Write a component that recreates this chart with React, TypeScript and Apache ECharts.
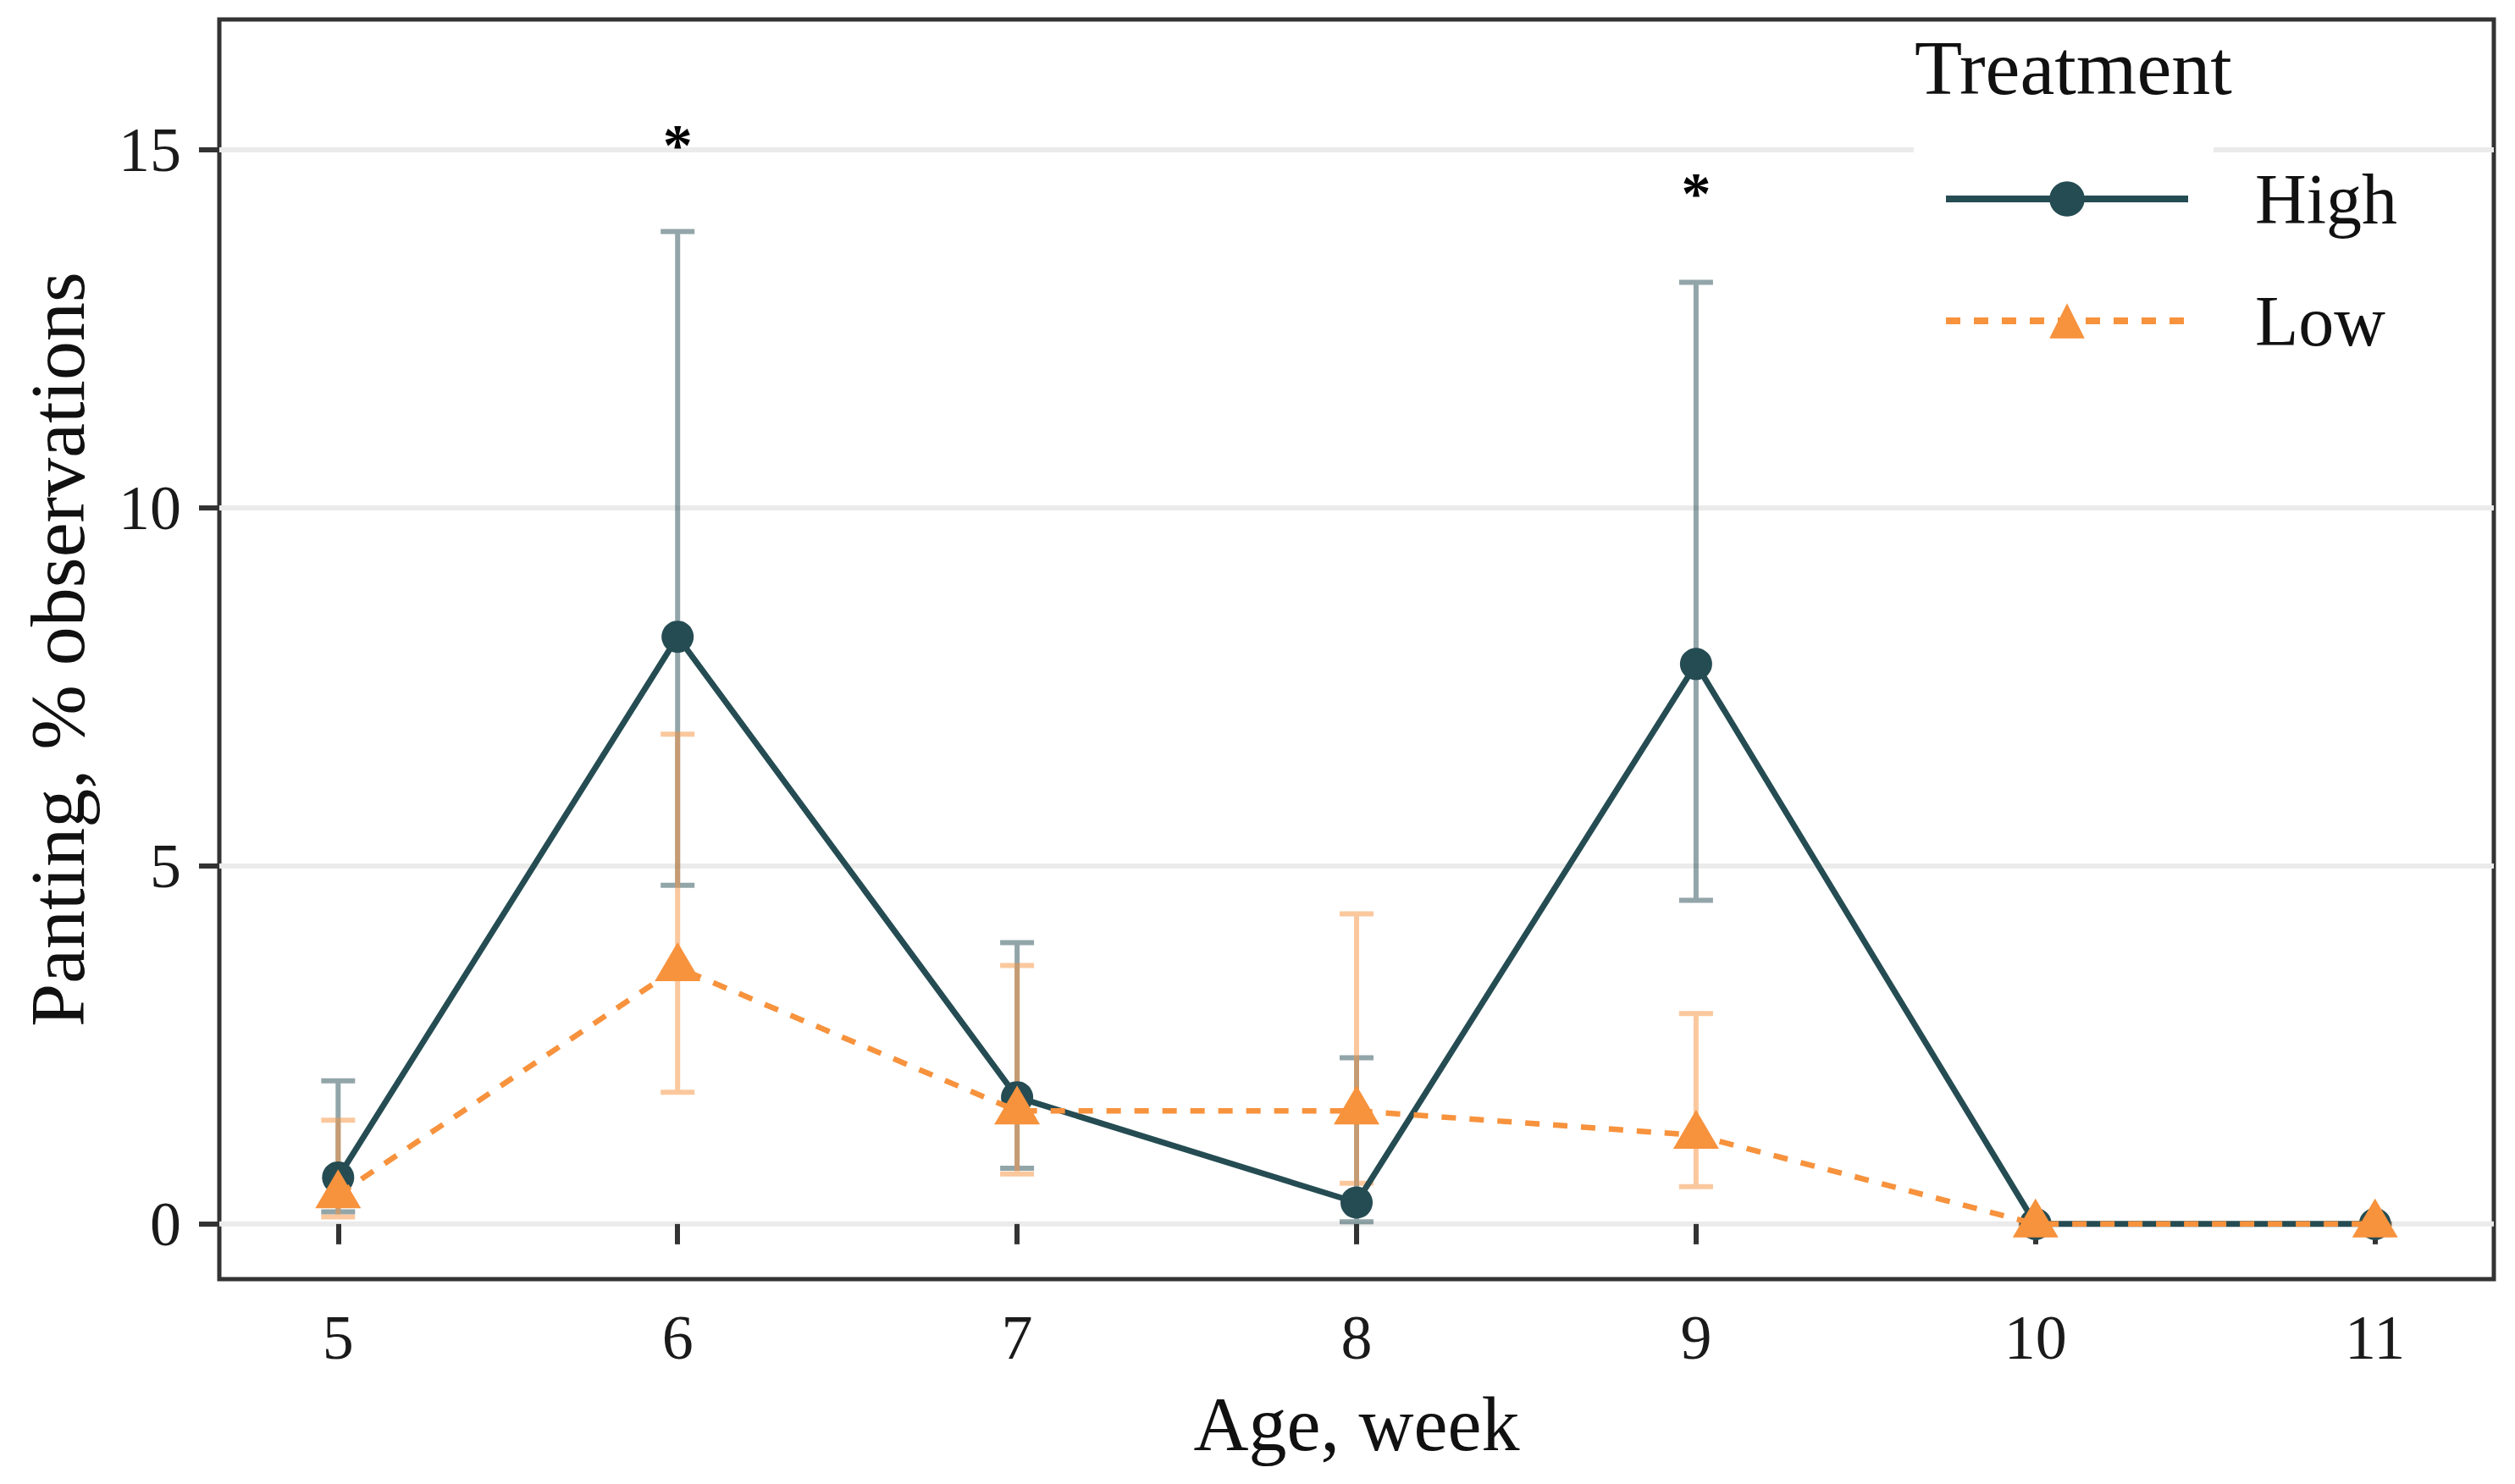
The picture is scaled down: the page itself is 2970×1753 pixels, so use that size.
import React, { useEffect, useRef } from "react";
import * as echarts from "echarts";

// ---- data ----
const weeks = [5, 6, 7, 8, 9, 10, 11];
const highMean = [0.65, 8.2, 1.77, 0.3, 7.82, 0, 0];
const highLower = [0.17, 4.73, 0.78, 0.03, 4.52, 0, 0];
const highUpper = [2.0, 13.86, 3.93, 2.32, 13.15, 0, 0];
const lowMean = [0.41, 3.58, 1.58, 1.58, 1.24, 0, 0];
const lowLower = [0.1, 1.84, 0.7, 0.57, 0.52, 0, 0];
const lowUpper = [1.45, 6.84, 3.61, 4.33, 2.94, 0, 0];
const sigWeeks = [6, 9];
const sigLevel = [15.22, 14.54];
const yTicks = [0, 5, 10, 15];
const xTicks = [5, 6, 7, 8, 9, 10, 11];
const xRange = [4.65, 11.35];
const yRange = [-0.77, 16.82];

const FONT = "Liberation Serif";
const HIGH = "#254C53";
const LOW = "#F7923D";

function errorBars(name: string, lo: number[], hi: number[], color: string, z: number) {
  return {
    type: "custom",
    name,
    z,
    silent: true,
    data: weeks.map((w, i) => [w, lo[i], hi[i]]),
    encode: { x: 0, y: [1, 2] },
    renderItem: (params: any, api: any) => {
      const x = api.value(0);
      const a = api.coord([x, api.value(1)]);
      const b = api.coord([x, api.value(2)]);
      const hw = 20;
      const d = `M${a[0] - hw} ${a[1]} L${a[0] + hw} ${a[1]} M${b[0] - hw} ${b[1]} L${b[0] + hw} ${b[1]} M${a[0]} ${a[1]} L${b[0]} ${b[1]}`;
      return {
        type: "path",
        shape: { pathData: d },
        style: { stroke: color, lineWidth: 6, fill: "none", opacity: 0.5 },
      };
    },
  };
}

export default function App() {
  const ref = useRef<HTMLDivElement>(null);
  useEffect(() => {
    document.body.style.margin = "0";
    const chart = echarts.init(ref.current!, null, { renderer: "svg" });
    const option: any = {
      animation: false,
      backgroundColor: "#ffffff",
      textStyle: { fontFamily: FONT },
      grid: {
        left: 259,
        top: 23,
        right: 25,
        bottom: 242,
        show: true,
        borderColor: "#333333",
        borderWidth: 5,
        backgroundColor: "transparent",
        containLabel: false,
        outerBoundsMode: "none",
      },
      title: {
        text: "Treatment",
        left: 2261,
        top: 34,
        padding: 0,
        textStyle: { fontFamily: FONT, fontSize: 92, fontWeight: "normal", color: "#111" },
      },
      legend: {
        data: ["High", "Low"],
        orient: "vertical",
        left: 2294,
        top: 193,
        padding: 0,
        itemWidth: 286,
        itemHeight: 52,
        itemGap: 60,
        lineStyle: { width: 8 },
        textStyle: { fontFamily: FONT, fontSize: 84, color: "#111", padding: [0, 0, 0, 74] },
      },
      graphic: [
        {
          type: "rect",
          z: 1,
          silent: true,
          shape: { x: 2260, y: 125, width: 354, height: 90 },
          style: { fill: "#ffffff" },
        },
      ],
      xAxis: {
        type: "value",
        min: xRange[0],
        max: xRange[1],
        axisLine: { show: false },
        splitLine: { show: false },
        axisTick: { show: true, length: 24, lineStyle: { color: "#333", width: 6 }, customValues: xTicks },
        axisLabel: { customValues: xTicks, fontSize: 74, color: "#1a1a1a", fontFamily: FONT, margin: 32 },
        name: "Age, week",
        nameLocation: "middle",
        nameGap: 126,
        nameTextStyle: { fontSize: 90, color: "#111", fontFamily: FONT },
      },
      yAxis: {
        type: "value",
        min: yRange[0],
        max: yRange[1],
        axisLine: { show: false },
        splitLine: { show: false },
        axisTick: { show: true, length: 24, lineStyle: { color: "#333", width: 6 }, customValues: yTicks },
        axisLabel: { customValues: yTicks, fontSize: 74, color: "#1a1a1a", fontFamily: FONT, margin: 45 },
        name: "Panting, % observations",
        nameLocation: "middle",
        nameGap: 145,
        nameTextStyle: { fontSize: 92, color: "#111", fontFamily: FONT },
      },
      series: [
        {
          type: "custom",
          name: "grid",
          z: 0,
          silent: true,
          data: yTicks.map((v) => [xRange[0], v]),
          encode: { x: 0, y: 1 },
          renderItem: (params: any, api: any) => {
            const cs = params.coordSys;
            const p = api.coord([api.value(0), api.value(1)]);
            return {
              type: "line",
              shape: { x1: cs.x, y1: p[1], x2: cs.x + cs.width, y2: p[1] },
              style: { stroke: "#EBEBEB", lineWidth: 6 },
            };
          },
        },
        errorBars("High CI", highLower, highUpper, HIGH, 2),
        errorBars("Low CI", lowLower, lowUpper, LOW, 2),
        {
          type: "line",
          name: "High",
          z: 3,
          data: weeks.map((w, i) => [w, highMean[i]]),
          symbol: "circle",
          symbolSize: 38,
          showAllSymbol: true,
          itemStyle: { color: HIGH },
          lineStyle: { color: HIGH, width: 7, type: "solid" },
        },
        {
          type: "line",
          name: "Low",
          z: 4,
          data: weeks.map((w, i) => [w, lowMean[i]]),
          symbol: "triangle",
          symbolSize: [54, 46],
          symbolOffset: [0, -7],
          showAllSymbol: true,
          itemStyle: { color: LOW },
          lineStyle: { color: LOW, width: 6.5, type: [17, 16] },
        },
        {
          type: "custom",
          name: "sig",
          z: 5,
          silent: true,
          data: sigWeeks.map((w, i) => [w, sigLevel[i]]),
          encode: { x: 0, y: 1 },
          renderItem: (params: any, api: any) => {
            const p = api.coord([api.value(0), api.value(1)]);
            return {
              type: "text",
              x: p[0],
              y: p[1] + 13,
              style: {
                text: "*",
                fontSize: 70,
                fontWeight: "bold",
                fontFamily: FONT,
                fill: "#000",
                align: "center",
                verticalAlign: "middle",
              },
            };
          },
        },
      ],
    };
    chart.setOption(option);
    return () => chart.dispose();
  }, []);
  return <div ref={ref} style={{ width: 2970, height: 1753, overflow: "hidden" }} />;
}
